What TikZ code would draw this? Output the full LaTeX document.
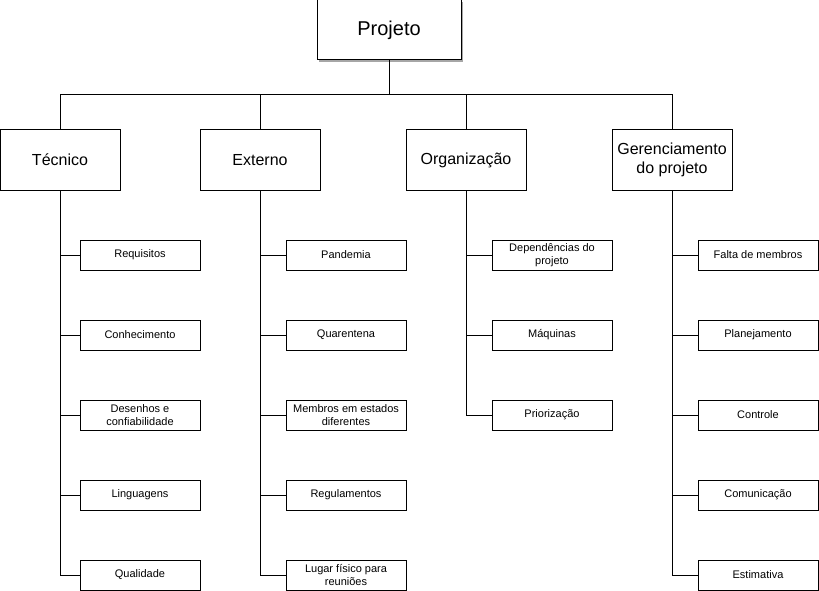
\documentclass[tikz,border=0pt]{standalone}
\usepackage{fontspec}
\setmainfont{Liberation Sans}
\usetikzlibrary{shadows}
\tikzset{
  raiz/.style={draw, line width=1pt, fill=white, minimum width=144pt, minimum height=60pt, inner sep=0pt,
    font=\fontsize{20}{24}\selectfont,
    drop shadow={shadow xshift=2pt, shadow yshift=-2pt, fill=black!35, opacity=1}},
  area/.style={draw, line width=1pt, minimum width=120pt, minimum height=60pt, inner sep=0pt,
    align=center, font=\fontsize{16}{19}\selectfont},
  folha/.style={draw, line width=1pt, minimum width=120pt, minimum height=30pt, inner sep=0pt,
    align=center, font=\fontsize{11}{13}\selectfont},
  liga/.style={line width=1pt},
}
\begin{document}
\begin{tikzpicture}[x=1pt, y=-1pt]
	\useasboundingbox (0,0) rectangle (819,591);
	\node[raiz] (r) at (389, 30) {Projeto};
	\coordinate (barra) at (389, 95);

	\node[area] (t) at (60,  160) {Técnico};
	\node[area] (e) at (260, 160) {Externo};
	\node[area] (o) at (466, 160) {Organização};
	\node[area] (g) at (672, 160) {Gerenciamento\\do projeto};

	\node[folha] (t1) at (140, 255) {Requisitos};
	\node[folha] (t2) at (140, 335) {Conhecimento};
	\node[folha] (t3) at (140, 415) {Desenhos e\\confiabilidade};
	\node[folha] (t4) at (140, 495) {Linguagens};
	\node[folha] (t5) at (140, 575) {Qualidade};

	\node[folha] (e1) at (346, 255) {Pandemia};
	\node[folha] (e2) at (346, 335) {Quarentena};
	\node[folha] (e3) at (346, 415) {Membros em estados\\diferentes};
	\node[folha] (e4) at (346, 495) {Regulamentos};
	\node[folha] (e5) at (346, 575) {Lugar físico para\\reuniões};

	\node[folha] (o1) at (552, 255) {Dependências do\\projeto};
	\node[folha] (o2) at (552, 335) {Máquinas};
	\node[folha] (o3) at (552, 415) {Priorização};

	\node[folha] (g1) at (758, 255) {Falta de membros};
	\node[folha] (g2) at (758, 335) {Planejamento};
	\node[folha] (g3) at (758, 415) {Controle};
	\node[folha] (g4) at (758, 495) {Comunicação};
	\node[folha] (g5) at (758, 575) {Estimativa};

	\draw[liga] (r) -- (barra);
	\foreach \c in {t, e, o, g}
	{	\draw[liga] (barra) -| (\c);
	}
	\def\ramos {t/t1, t/t2, t/t3, t/t4, t/t5, e/e1, e/e2, e/e3, e/e4, e/e5,
	o/o1, o/o2, o/o3, g/g1, g/g2, g/g3, g/g4, g/g5}  % area/folha
	\foreach \u/\v in \ramos
	{	\draw[liga] (\u.south) |- (\v.west);
	}
\end{tikzpicture}
\end{document}
